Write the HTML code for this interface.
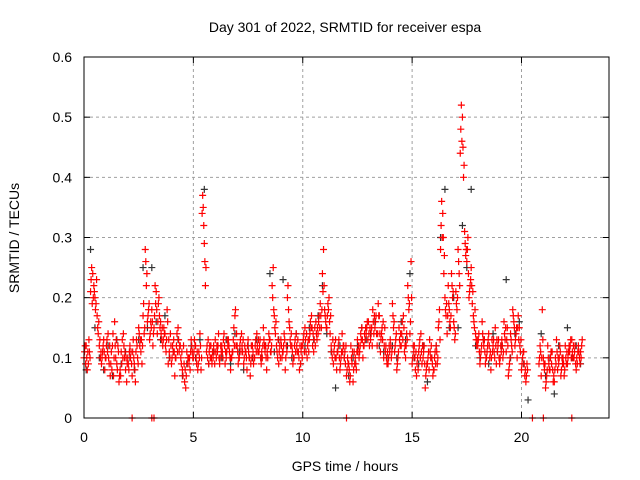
<!DOCTYPE html>
<html><head><meta charset="utf-8"><style>
body{margin:0;background:#fff}
svg{display:block;font-family:"Liberation Sans",sans-serif}
</style></head><body>
<svg id="chart" width="640" height="480" viewBox="0 0 640 480">
<rect width="640" height="480" fill="#fff"/>
<text x="345" y="32" font-size="14" text-anchor="middle">Day 301 of 2022, SRMTID for receiver espa</text>
<text x="345" y="471" font-size="14" text-anchor="middle">GPS time / hours</text>
<text transform="translate(19,238) rotate(-90)" font-size="14" text-anchor="middle">SRMTID / TECUs</text>
<g id="grid"></g>
<g id="ticks"></g>
<g id="marks"></g>
<rect x="84" y="57" width="525" height="361" fill="none" stroke="#000" stroke-width="1"/>
</svg>
<script>
const xTicks=[0,5,10,15,20];
const yTicks=[0,0.1,0.2,0.3,0.4,0.5,0.6];
const yTickLabels=["0","0.1","0.2","0.3","0.4","0.5","0.6"];
const redA=[0.10,0.12,0.09,0.21,0.24,0.20,0.17,0.12,0.09,0.13,
0.10,0.14,0.07,0.12,0.16,0.09,0.06,0.11,0.14,0.08,
0.10,0.12,0.07,0.09,0.13,0.15,0.11,0.17,0.28,0.16,
0.13,0.18,0.15,0.21,0.19,0.16,0.12,0.14,0.18,0.11,
0.09,0.13,0.10,0.15,0.12,0.08,0.06,0.11,0.09,0.13,
0.10,0.12,0.08,0.14,0.34,0.29,0.11,0.09,0.12,0.10,
0.13,0.11,0.09,0.12,0.14,0.10,0.13,0.08,0.11,0.17,
0.12,0.10,0.14,0.09,0.11,0.13,0.07,0.12,0.10,0.14,
0.11,0.09,0.15,0.12,0.10,0.13,0.22,0.17,0.12,0.09,
0.13,0.11,0.08,0.20,0.15,0.12,0.10,0.14,0.11,0.09,
0.12,0.15,0.10,0.13,0.17,0.11,0.16,0.14,0.19,0.24,
0.18,0.15,0.20,0.12,0.09,0.13,0.11,0.08,0.14,0.10,
0.07,0.09,0.12,0.06,0.10,0.13,0.11,0.15,0.12,0.14,
0.16,0.13,0.18,0.15,0.12,0.17,0.14,0.10,0.12,0.09,
0.13,0.19,0.11,0.08,0.15,0.12,0.17,0.10,0.22,0.14,
0.09,0.12,0.07,0.11,0.14,0.10,0.05,0.09,0.13,0.10,
0.08,0.12,0.15,0.28,0.34,0.20,0.14,0.18,0.24,0.16,
0.21,0.28,0.44,0.50,0.31,0.26,0.20,0.25,0.17,0.14,
0.12,0.09,0.16,0.13,0.10,0.14,0.08,0.12,0.15,0.11,
0.09,0.13,0.16,0.11,0.07,0.14,0.18,0.12,0.10,0.15,
0.08,0.11,0.06,null,null,null,null,null,0.09,0.07,
0.10,0.05,0.12,0.08,0.11,0.06,0.13,0.09,0.07,0.10,
0.12,0.09,0.11,0.13,0.10,0.08,0.12,0.11];
const redB=[0.12,0.08,0.11,0.25,0.22,0.19,0.14,0.10,0.11,0.08,
0.13,0.09,0.11,0.07,0.10,0.12,0.08,0.13,0.10,0.06,
0.08,0.11,0.13,0.06,0.10,0.12,0.09,0.14,0.22,0.18,
0.16,0.12,0.22,0.14,0.17,0.13,0.15,0.11,0.09,0.14,
0.12,0.07,0.14,0.11,0.09,0.12,0.05,0.10,0.08,0.11,
0.13,0.09,0.11,0.08,0.35,0.22,0.10,0.12,0.09,0.11,
0.10,0.14,0.12,0.10,0.09,0.13,0.11,0.10,0.15,0.12,
0.09,0.13,0.11,0.12,0.08,0.10,0.12,0.09,0.13,0.11,
0.13,0.10,0.12,0.08,0.14,0.11,0.25,0.14,0.10,0.12,
0.10,0.14,0.12,0.18,0.12,0.09,0.13,0.11,0.08,0.12,
0.14,0.11,0.13,0.16,0.12,0.15,0.13,0.17,0.15,0.28,
0.16,0.19,0.14,0.10,0.12,0.08,0.13,0.10,0.12,0.09,
0.10,0.06,0.09,0.11,0.08,0.12,0.14,0.10,0.13,0.16,
0.12,0.15,0.14,0.17,0.19,0.11,0.13,0.15,0.09,0.12,
0.10,0.15,0.13,0.10,0.12,0.16,0.11,0.14,0.18,0.26,
0.12,0.08,0.10,0.13,0.09,0.12,0.08,0.11,0.10,0.07,
0.11,0.09,0.18,0.36,0.24,0.17,0.22,0.15,0.20,0.13,
0.18,0.24,0.52,0.40,0.27,0.30,0.22,0.19,0.15,0.12,
0.14,0.11,0.13,0.09,0.12,0.10,0.13,0.11,0.09,0.13,
0.12,0.10,0.13,0.15,0.09,0.12,0.16,0.14,0.17,0.11,
0.10,0.07,0.09,null,null,null,null,null,0.12,0.18,
0.08,0.07,0.09,0.11,0.06,0.10,0.08,0.12,0.10,0.07,
0.09,0.11,0.13,0.10,0.12,0.09,0.10,0.12];
const redC=[0.11,0.10,0.13,0.23,0.20,0.18,0.15,0.13,0.10,0.11,
0.12,0.10,0.09,0.14,0.12,0.08,0.07,0.09,0.12,0.10,
0.09,0.10,0.11,0.08,0.12,0.14,0.13,0.19,0.26,0.17,
0.14,0.16,0.17,0.18,0.20,0.14,0.13,0.12,0.16,0.10,
0.10,0.11,0.12,0.13,0.10,0.07,0.08,0.09,0.10,0.12,
0.11,0.10,0.09,0.12,0.37,0.26,0.12,0.11,0.10,0.12,
0.11,0.12,0.10,0.11,0.12,0.11,0.12,0.10,0.13,0.18,
0.11,0.12,0.12,0.10,0.10,0.11,0.09,0.11,0.12,0.12,
0.12,0.11,0.13,0.10,0.12,0.11,0.20,0.15,0.11,0.11,
0.12,0.12,0.10,0.22,0.13,0.11,0.12,0.12,0.10,0.11,
0.13,0.13,0.12,0.14,0.15,0.13,0.14,0.16,0.17,0.21,
0.17,0.17,0.16,0.11,0.11,0.10,0.12,0.09,0.11,0.11,
0.08,0.08,0.10,0.08,0.09,0.11,0.12,0.13,0.14,0.15,
0.14,0.14,0.16,0.16,0.14,0.14,0.15,0.12,0.10,0.10,
0.12,0.17,0.12,0.09,0.13,0.14,0.15,0.12,0.20,0.16,
0.10,0.10,0.09,0.12,0.11,0.11,0.07,0.10,0.11,0.09,
0.10,0.11,0.16,0.32,0.30,0.18,0.17,0.16,0.22,0.15,
0.19,0.26,0.48,0.45,0.29,0.28,0.21,0.22,0.16,0.13,
0.13,0.10,0.14,0.11,0.11,0.12,0.10,0.13,0.12,0.12,
0.10,0.12,0.14,0.13,0.08,0.13,0.17,0.13,0.15,0.12,
0.09,0.09,0.07,null,null,null,null,null,0.10,0.10,
0.09,0.06,0.10,0.10,0.08,0.08,0.11,0.10,0.08,0.09,
0.10,0.10,0.12,0.11,0.11,0.10,0.11,0.10];
const redD=[0.09,0.11,0.10,0.19,0.21,0.23,0.16,0.11,0.12,0.10,
0.11,0.12,0.08,0.10,0.13,0.11,0.07,0.10,0.11,0.09,
0.11,0.09,0.10,0.11,0.09,0.13,0.12,0.15,0.24,0.19,
0.15,0.14,0.19,0.16,0.15,0.15,0.14,0.13,0.13,0.12,
0.11,0.10,0.11,0.12,0.11,0.09,0.07,0.10,0.11,0.10,
0.12,0.11,0.10,0.10,0.32,0.25,0.13,0.10,0.11,0.09,
0.12,0.10,0.11,0.13,0.11,0.12,0.10,0.11,0.12,0.14,
0.10,0.11,0.13,0.11,0.12,0.10,0.10,0.10,0.11,0.13,
0.10,0.12,0.11,0.11,0.13,0.12,0.18,0.16,0.13,0.10,
0.11,0.13,0.11,0.16,0.14,0.10,0.11,0.13,0.12,0.10,
0.11,0.14,0.11,0.15,0.14,0.12,0.15,0.15,0.18,0.22,
0.15,0.18,0.17,0.13,0.10,0.11,0.10,0.11,0.12,0.12,
0.09,0.07,0.11,0.09,0.11,0.10,0.13,0.12,0.15,0.13,
0.15,0.12,0.17,0.14,0.17,0.13,0.16,0.11,0.11,0.11,
0.11,0.16,0.14,0.11,0.14,0.13,0.12,0.13,0.19,0.20,
0.11,0.11,0.08,0.10,0.12,0.09,0.09,0.08,0.12,0.08,
0.09,0.10,0.13,0.30,0.27,0.19,0.19,0.17,0.21,0.14,
0.20,0.22,0.46,0.42,0.28,0.24,0.23,0.21,0.18,0.13,
0.11,0.12,0.12,0.10,0.13,0.11,0.11,0.10,0.13,0.10,
0.11,0.11,0.15,0.12,0.10,0.11,0.15,0.15,0.13,0.13,
0.11,0.08,0.08,null,null,null,null,null,0.11,0.13,
0.09,0.08,0.08,0.09,0.07,0.09,0.10,0.11,0.09,0.08,
0.11,0.12,0.10,0.12,0.09,0.11,0.09,0.13];
const black=[0.08,0.28,0.15,0.10,0.08,0.12,0.07,0.13,0.09,0.11,
0.10,0.08,0.13,0.25,0.15,0.25,0.16,0.13,0.17,0.10,
0.11,0.13,0.07,0.09,0.12,0.10,0.13,0.38,0.09,0.11,
0.12,0.10,0.13,0.09,0.14,0.11,0.08,0.12,0.10,0.13,
0.10,0.12,0.24,0.11,0.13,0.23,0.12,0.10,0.14,0.09,
0.12,0.15,0.13,0.17,0.22,0.14,0.11,0.05,0.12,0.10,
0.07,0.10,0.12,0.15,0.13,0.14,0.16,0.12,0.11,0.10,
0.12,0.10,0.16,0.13,0.24,0.10,0.09,0.12,0.06,0.10,
0.12,0.30,0.38,0.15,0.20,0.15,0.32,0.25,0.38,0.12,
0.10,0.13,0.09,0.14,0.11,0.12,0.23,0.10,0.14,0.16,
0.09,0.03,null,null,0.14,0.07,0.10,0.04,0.12,0.09,
0.15,0.10,0.12,0.09];
const zeroTimes=[2.2,3.1,3.2,12.0,20.5,21.0,22.3];
const X=t=>84+t*(525/24);
const Y=v=>418-v*(361/0.6);
const NS="http://www.w3.org/2000/svg";
function mk(tag,attrs,parent){const e=document.createElementNS(NS,tag);for(const k in attrs)e.setAttribute(k,attrs[k]);parent.appendChild(e);return e;}
const grid=document.getElementById('grid'),ticks=document.getElementById('ticks'),marks=document.getElementById('marks');
xTicks.forEach(t=>{
 if(t>0){const g=mk('line',{x1:X(t),x2:X(t),y1:57,y2:418,stroke:'#a0a0a0','stroke-dasharray':'3,3'},grid);
 
 }
 mk('line',{x1:X(t),x2:X(t),y1:418,y2:412,stroke:'#000'},ticks);
 mk('line',{x1:X(t),x2:X(t),y1:57,y2:63,stroke:'#000'},ticks);
 const l=mk('text',{x:X(t),y:442,'font-size':14,'text-anchor':'middle'},ticks);l.textContent=t;
 
 
});
yTicks.forEach((v,i)=>{
 if(v>0&&v<0.6){const g=mk('line',{x1:84,x2:609,y1:Y(v),y2:Y(v),stroke:'#a0a0a0','stroke-dasharray':'3,3'},grid);
 
 }
 mk('line',{x1:84,x2:90,y1:Y(v),y2:Y(v),stroke:'#000'},ticks);
 mk('line',{x1:603,x2:609,y1:Y(v),y2:Y(v),stroke:'#000'},ticks);
 const l=mk('text',{x:72,y:Y(v)+5,'font-size':14,'text-anchor':'end'},ticks);l.textContent=yTickLabels[i];
 
 
});
function plus(t,v,col,name){
 const x=X(t),y=Y(v);
 const p=mk('path',{d:`M${x-3.5} ${y}H${x+3.5}M${x} ${y-3.5}V${y+3.5}`,stroke:col,'stroke-width':1.2,fill:'none'},marks);
 
 
}
black.forEach((v,i)=>{if(v!==null)plus(0.1+i*0.2,v,'#333','black-point');});
redA.forEach((v,i)=>{if(v!==null)plus(i*0.1,v,'#f00','red-point');});
redB.forEach((v,i)=>{if(v!==null)plus(0.05+i*0.1,v,'#f00','red-point');});
redC.forEach((v,i)=>{if(v!==null)plus(0.025+i*0.1,v,'#f00','red-point');});
redD.forEach((v,i)=>{if(v!==null)plus(0.075+i*0.1,v,'#f00','red-point');});
zeroTimes.forEach(t=>plus(t,0,'#f00','zero-point'));
</script>
</body></html>
